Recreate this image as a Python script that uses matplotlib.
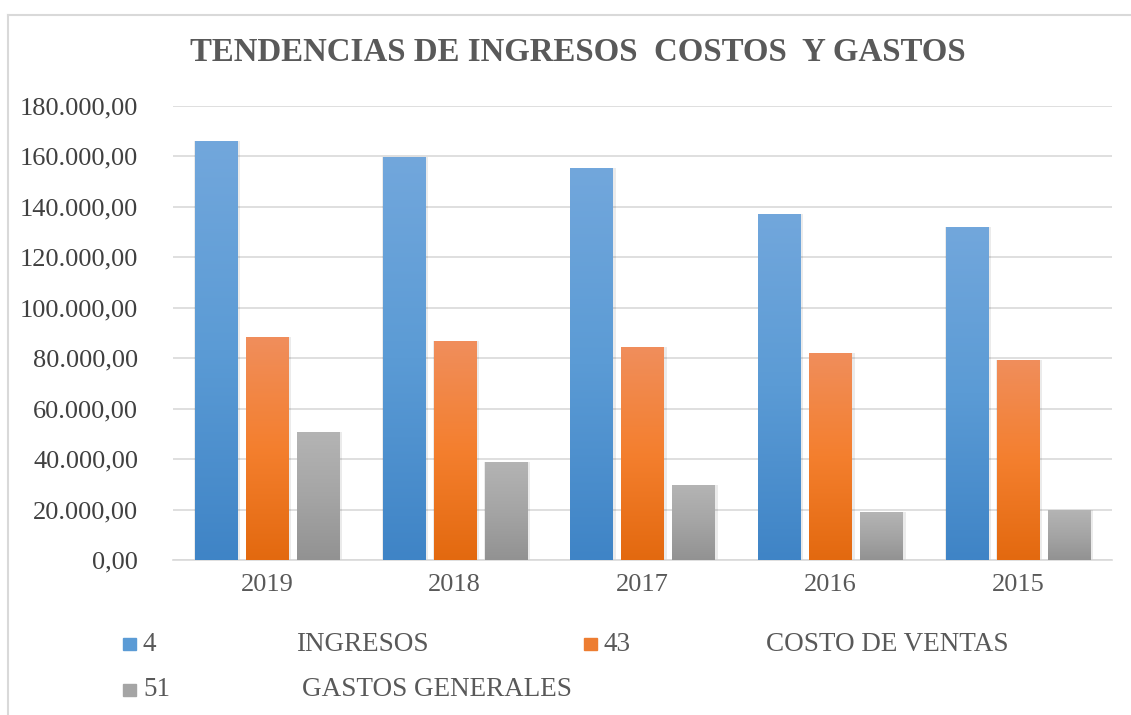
import numpy as np
import matplotlib
matplotlib.use("Agg")
import matplotlib.pyplot as plt
from matplotlib.colors import LinearSegmentedColormap
from matplotlib.patches import Rectangle
from matplotlib.lines import Line2D
from matplotlib.ticker import FuncFormatter, MultipleLocator

# datos
years = ["2019", "2018", "2017", "2016", "2015"]
ingresos = [166100, 159800, 155400, 137200, 132000]
costo_ventas = [88400, 86800, 84400, 82100, 79300]
gastos_generales = [50700, 38900, 29700, 19000, 19800]

codes = ["4", "43", "51"]
names = ["INGRESOS", "COSTO DE VENTAS", "GASTOS GENERALES"]

plt.rcParams["font.family"] = ["Liberation Serif", "DejaVu Serif"]
text_color = "#595959"

# degradado (arriba claro, abajo oscuro) como en Excel
gradients = [
    ("#72a7dc", "#5b9bd5", "#3f84c6"),
    ("#f08e5c", "#f47f2e", "#e3690f"),
    ("#b4b4b4", "#a5a5a5", "#929292"),
]
solid = ["#5b9bd5", "#ed7d31", "#a5a5a5"]


def fmt(v, pos):
    s = "{:,.2f}".format(v)
    return s.replace(",", "X").replace(".", ",").replace("X", ".")


fig = plt.figure(figsize=(11.31, 7.15), dpi=100)
ax = fig.add_axes([0.153, 0.2168, 0.830, 0.635])

x = np.arange(len(years))
width = 0.224
step = 0.272
series = [ingresos, costo_ventas, gastos_generales]

grad_img = np.linspace(0, 1, 256).reshape(-1, 1)
for i, vals in enumerate(series):
    cmap = LinearSegmentedColormap.from_list("g%d" % i, list(gradients[i]))
    pos = x + (i - 1) * step
    # sombra suave
    ax.bar(pos + 0.008, vals, width=width + 0.02, color="#000000", alpha=0.08,
           zorder=2, linewidth=0)
    bars = ax.bar(pos, vals, width=width, color=solid[i], zorder=3, linewidth=0)
    for b in bars:
        bx, by = b.get_x(), b.get_y()
        bw, bh = b.get_width(), b.get_height()
        im = ax.imshow(grad_img, cmap=cmap, aspect="auto", zorder=4,
                       extent=[bx, bx + bw, by, by + bh], origin="upper")
        im.set_clip_path(b)

ax.set_xlim(-0.5, len(years) - 0.5)
ax.set_ylim(0, 180000)
ax.yaxis.set_major_locator(MultipleLocator(20000))
ax.yaxis.set_major_formatter(FuncFormatter(fmt))
ax.set_xticks(x)
ax.set_xticklabels(years)
ax.tick_params(axis="both", length=0, labelsize=19, colors=text_color, pad=10)
ax.tick_params(axis="y", pad=25, colors="#404040")
ax.grid(axis="y", color="#d9d9d9", linewidth=1.2, zorder=0)
ax.set_axisbelow(True)
for side in ["top", "right", "left"]:
    ax.spines[side].set_visible(False)
ax.spines["bottom"].set_color("#d9d9d9")
ax.spines["bottom"].set_linewidth(1.2)

fig.text(0.511, 0.927, "TENDENCIAS DE INGRESOS  COSTOS  Y GASTOS",
         ha="center", va="center", fontsize=23.7, fontweight="bold",
         color=text_color)

# leyenda
leg_sq = [(0.1088, 0.0993), (0.5164, 0.0993), (0.1088, 0.035)]
leg_code = [0.1256, 0.534, 0.1265]
leg_name = [0.2617, 0.677, 0.267]
for i in range(3):
    sx, sy = leg_sq[i]
    fig.add_artist(Rectangle((sx, sy - 0.0084), 0.0115, 0.0168,
                             transform=fig.transFigure, color=solid[i]))
    fig.text(leg_code[i], sy, codes[i], ha="left", va="center",
             fontsize=19.5, color=text_color)
    fig.text(leg_name[i], sy, names[i], ha="left", va="center",
             fontsize=19.5, color=text_color)

# borde del area del grafico
fig.add_artist(Line2D([0.007, 0.007], [0.0, 0.979], transform=fig.transFigure,
                      color="#d9d9d9", linewidth=1.5))
fig.add_artist(Line2D([0.007, 1.0], [0.979, 0.979], transform=fig.transFigure,
                      color="#d9d9d9", linewidth=1.5))

fig.savefig("out.png", dpi=100)
